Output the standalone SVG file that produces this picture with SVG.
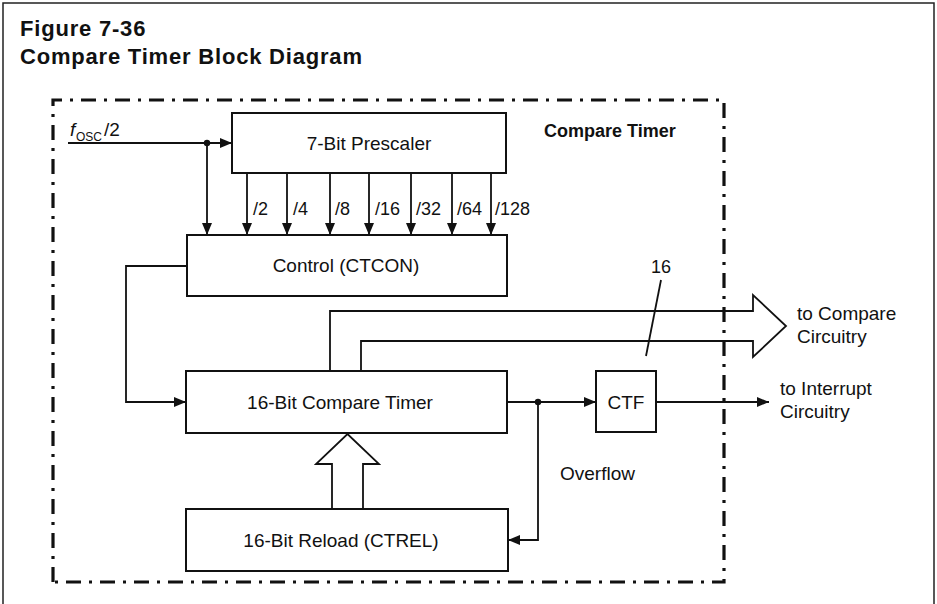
<svg xmlns="http://www.w3.org/2000/svg" width="937" height="604" viewBox="0 0 937 604">
<style>
text{font-family:"Liberation Sans",Arial,sans-serif;fill:#111}
.t{font-size:22px;font-weight:bold;letter-spacing:0.8px}
.lb{font-size:19px}
.sm{font-size:18px}
.box{fill:#fff;stroke:#111;stroke-width:2}
.ln{fill:none;stroke:#111;stroke-width:1.8}
.frame{fill:none;stroke:#222;stroke-width:1.5}
.dd{fill:none;stroke:#111;stroke-width:3.2;stroke-dasharray:15 8 3 8}
</style>
<defs>
<marker id="ah" viewBox="0 0 12 10" refX="12" refY="5" markerWidth="12" markerHeight="10" markerUnits="userSpaceOnUse" orient="auto">
<path d="M0,0 L12,5 L0,10 Z" fill="#111"/>
</marker>
</defs>
<rect width="937" height="604" fill="#fff"/>
<path class="frame" d="M3,604 V3 H934 V604"/>
<text class="t" x="20" y="36">Figure 7-36</text>
<text class="t" x="20" y="64">Compare Timer Block Diagram</text>
<path class="dd" d="M53,582 V100 H724 V582 Z"/>
<text x="544" y="137" style="font-size:18px;font-weight:bold">Compare Timer</text>

<g id="connectors">
<path class="ln" d="M68,143 H232" marker-end="url(#ah)"/>
<path class="ln" d="M207,143 V235" marker-end="url(#ah)"/>
<circle cx="207" cy="143" r="3.2" fill="#111"/>
<path class="ln" d="M247,173 V235" marker-end="url(#ah)"/>
<path class="ln" d="M287,173 V235" marker-end="url(#ah)"/>
<path class="ln" d="M330,173 V235" marker-end="url(#ah)"/>
<path class="ln" d="M369,173 V235" marker-end="url(#ah)"/>
<path class="ln" d="M411,173 V235" marker-end="url(#ah)"/>
<path class="ln" d="M452,173 V235" marker-end="url(#ah)"/>
<path class="ln" d="M491,173 V235" marker-end="url(#ah)"/>
<path class="ln" d="M187,266 H126 V402 H186" marker-end="url(#ah)"/>
<path class="ln" d="M330,371 V311 H753 V295 L786,326 L753,357 V341 H361 V371"/>
<path class="ln" d="M661,280 L646,356"/>
<path class="ln" d="M507,402 H596" marker-end="url(#ah)"/>
<circle cx="538" cy="402" r="3.2" fill="#111"/>
<path class="ln" d="M538,402 V540 H508" marker-end="url(#ah)"/>
<path class="ln" d="M656,402 H769" marker-end="url(#ah)"/>
<path class="ln" d="M332,509 V464 H316 L347.5,434 L379,464 H363 V509"/>
</g>

<text x="70" y="136" class="lb" style="font-style:italic">f</text>
<text x="76" y="141" style="font-size:12px">OSC</text>
<text x="104" y="136" class="lb">/2</text>
<text class="sm" x="253" y="215">/2</text>
<text class="sm" x="293" y="215">/4</text>
<text class="sm" x="335" y="215">/8</text>
<text class="sm" x="375" y="215">/16</text>
<text class="sm" x="416" y="215">/32</text>
<text class="sm" x="457" y="215">/64</text>
<text class="sm" x="495" y="215">/128</text>
<text class="sm" x="651" y="273">16</text>
<text class="lb" x="797" y="320">to Compare</text>
<text class="lb" x="797" y="343">Circuitry</text>
<text class="lb" x="780" y="395">to Interrupt</text>
<text class="lb" x="780" y="418">Circuitry</text>
<text class="lb" x="560" y="480">Overflow</text>

<g id="prescaler">
<rect class="box" x="232" y="113" width="274" height="60"/>
<text class="lb" x="369" y="150" text-anchor="middle">7-Bit Prescaler</text>
</g>
<g id="control">
<rect class="box" x="187" y="235" width="320" height="61"/>
<text class="lb" x="346" y="272" text-anchor="middle">Control (CTCON)</text>
</g>
<g id="timer">
<rect class="box" x="186" y="371" width="321" height="62"/>
<text class="lb" x="340" y="409" text-anchor="middle">16-Bit Compare Timer</text>
</g>
<g id="ctf">
<rect class="box" x="596" y="371" width="60" height="61"/>
<text class="lb" x="626" y="409" text-anchor="middle">CTF</text>
</g>
<g id="reload">
<rect class="box" x="186" y="509" width="322" height="62"/>
<text class="lb" x="341" y="547" text-anchor="middle">16-Bit Reload (CTREL)</text>
</g>
</svg>
